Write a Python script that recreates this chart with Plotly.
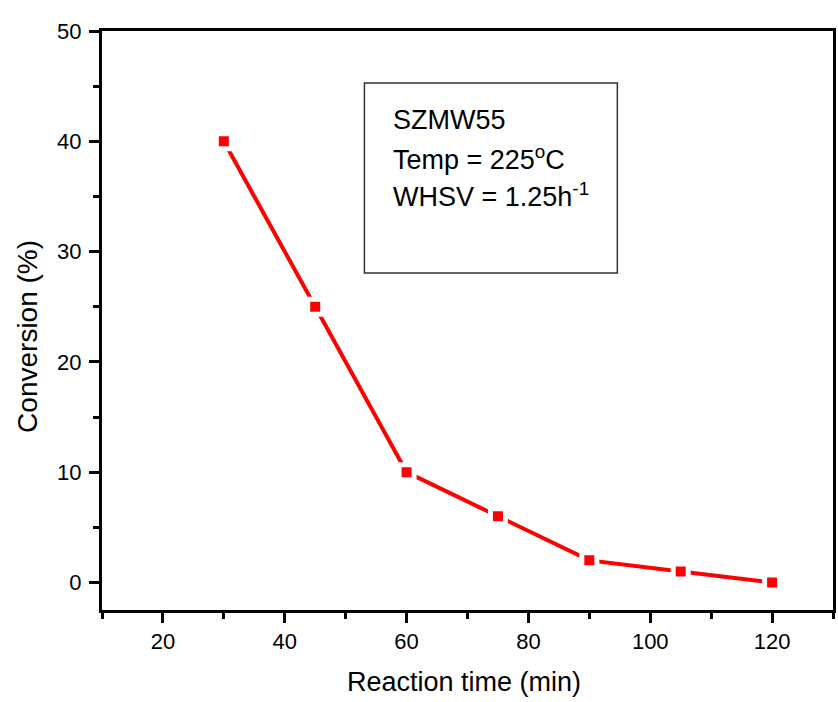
import plotly.graph_objects as go

# Data
reaction_time = [30, 45, 60, 75, 90, 105, 120]
conversion = [40, 25, 10, 6, 2, 1, 0]

x_title = "Reaction time (min)"
y_title = "Conversion (%)"
info_lines = ["SZMW55", "Temp = 225<sup>o</sup>C", "WHSV = 1.25h<sup>-1</sup>"]

FONT = "Arial, Liberation Sans, sans-serif"
RED = "#ff0000"

fig = go.Figure()
fig.add_trace(go.Scatter(
    x=reaction_time, y=conversion, mode="lines+markers",
    line=dict(color=RED, width=4),
    marker=dict(symbol="square", size=15, color=RED,
                line=dict(color="white", width=5)),
    showlegend=False,
))

axis_common = dict(
    showline=True, linecolor="black", linewidth=3, mirror=True,
    ticks="outside", ticklen=10, tickwidth=3, tickcolor="black",
    showgrid=False, zeroline=False,
    tickfont=dict(family=FONT, size=22, color="black"),
)

fig.update_xaxes(range=[10, 130], tick0=0, dtick=20,
                 minor=dict(ticks="outside", dtick=10, tick0=0, ticklen=6,
                            tickwidth=3, tickcolor="black"),
                 **axis_common)
fig.update_yaxes(range=[-2.5, 50], tick0=0, dtick=10, ticklabelstandoff=3,
                 minor=dict(ticks="outside", dtick=5, tick0=0, ticklen=6,
                            tickwidth=3, tickcolor="black"),
                 **axis_common)

# Info box
fig.add_shape(type="rect", xref="paper", yref="paper",
              x0=0.359, x1=0.705, y0=0.582, y1=0.910,
              line=dict(color="#333333", width=1.5), fillcolor="white", layer="below")
for txt, yy in zip(info_lines, [0.846, 0.781, 0.717]):
    fig.add_annotation(text=txt, xref="paper", yref="paper", x=0.395, y=yy,
                       xanchor="left", yanchor="middle", showarrow=False,
                       font=dict(family=FONT, size=27, color="black"))

# Axis titles
fig.add_annotation(text=x_title, xref="paper", yref="paper", x=0.495, y=-0.125,
                   xanchor="center", yanchor="middle", showarrow=False,
                   font=dict(family=FONT, size=27, color="black"))
fig.add_annotation(text=y_title, xref="paper", yref="paper", x=-0.101, y=0.472,
                   xanchor="center", yanchor="middle", showarrow=False, textangle=-90,
                   font=dict(family=FONT, size=28, color="black"))

fig.update_layout(
    width=838, height=702,
    margin=dict(l=102, r=2, t=31, b=92),
    paper_bgcolor="white", plot_bgcolor="white",
)

fig.write_html("out.html")
